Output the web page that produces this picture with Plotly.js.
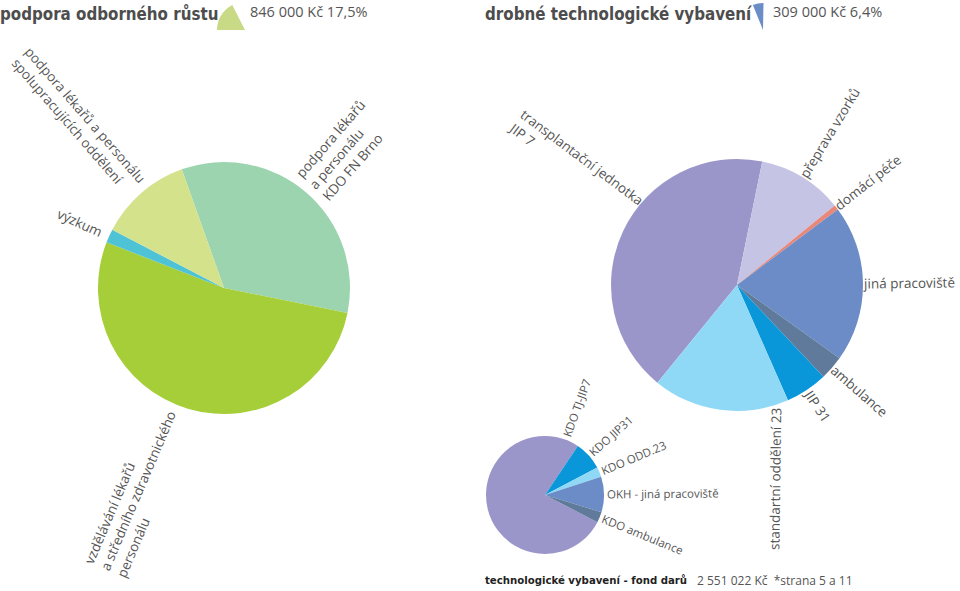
<!DOCTYPE html>
<html><head><meta charset="utf-8">
<script src="https://cdn.plot.ly/plotly-3.0.1.min.js"></script>
<style>html,body{margin:0;padding:0;background:#fff}#chart{width:960px;height:591px}</style>
</head><body><div id="chart"></div>
<script>
// ---------- DATA ----------
const growthTitle = 'podpora odborného růstu';
const growthSummary = '846 000 Kč 17,5%';
const growthShare = 17.5;
const growthLabels = ['podpora lékařů<br>a personálu<br>KDO FN Brno',
  'vzdělávání lékařů<br>a středního zdravotnického<br>personálu',
  'výzkum',
  'podpora lékařů a personálu<br>spolupracujících oddělení'];
const growthValues = [33.6, 52.7, 1.75, 11.9];

const equipTitle = 'drobné technologické vybavení';
const equipSummary = '309 000 Kč 6,4%';
const equipShare = 6.4;
const equipLabels = ['transplantační jednotka<br>JIP 7', 'přeprava vzorků', 'domácí péče',
  'jiná pracoviště', 'ambulance', 'JIP 31', 'standartní oddělení 23'];
const equipValues = [42.3, 10.9, 0.64, 20.1, 3.1, 5.4, 17.5];

const fundTitle = 'technologické vybavení - fond darů';
const fundSummary = '2 551 022 Kč\u00a0 *strana 5 a 11';
const fundLabels = ['KDO TJ-JIP7', 'KDO JIP31', 'KDO ODD.23', 'OKH - jiná pracoviště', 'KDO ambulance'];
const fundValues = [76.75, 7.9, 2.7, 9.7, 2.9];

// ---------- STYLE / GEOMETRY ----------
const W = 960, H = 591;
const LABEL_FONT = 'Open Sans', LABEL_COLOR = '#555555';
const HEAD_FONT = 'DejaVu Sans Condensed';
const growthColors = ['#9bd4ae', '#a6ce39', '#4ec3d5', '#d3e28b'];
const equipColors = ['#9b96ca', '#c6c4e4', '#e8877a', '#6b8cc7', '#5f7a9a', '#0a97d9', '#8fd8f6'];
const fundColors = ['#9b96ca', '#0a97d9', '#8fd8f6', '#6b8cc7', '#5f7a9a'];

const geoGrowth = {cx: 224, cy: 288, r: 126, rot: 340.4, gap: 8, size: 13.5,
  frac: [0.5, 0.535, 0.5, 0.5], taAdj: {}};
const geoEquip = {cx: 737, cy: 285, r: 126, rot: 219.2, gap: 1, size: 13.5,
  frac: [0.575, 0.5, 0.5, 0.5, 0.5, 0.5, 0.2], taAdj: {6: -168}};
const geoFund = {cx: 545, cy: 495, r: 59, rot: 117.4, gap: 3, size: 11.5,
  frac: [0.95, 0.5, 0.5, 0.5, 0.5], taAdj: {}};
const geoIconG = {cx: 245, cy: 30, r: 28, rot: 270};
const geoIconE = {cx: 763, cy: 30, r: 27, rot: 338};

function dom(g) {
  return {x: [(g.cx - g.r) / W, (g.cx + g.r) / W], y: [1 - (g.cy + g.r) / H, 1 - (g.cy - g.r) / H]};
}
function pieTrace(values, colors, g, labels) {
  return {type: 'pie', values: values, labels: labels,
    marker: {colors: colors, line: {width: 0}}, sort: false, direction: 'clockwise',
    rotation: g.rot, domain: dom(g), textinfo: 'none', hoverinfo: 'skip', showlegend: false};
}
const ctx = document.createElement('canvas').getContext('2d');
function textWidth(t, size) {
  ctx.font = size + 'px "' + LABEL_FONT + '"';
  return Math.max(...t.split('<br>').map(s => ctx.measureText(s).width));
}
function labelAnns(labels, values, g) {
  const total = values.reduce((a, b) => a + b, 0);
  let acc = 0;
  return labels.map((lab, i) => {
    const ang = g.rot + (acc + values[i] * g.frac[i]) / total * 360;
    acc += values[i];
    const a = ((ang % 360) + 360) % 360;
    const rad = a * Math.PI / 180;
    const w = textWidth(lab, g.size);
    const d = g.r + g.gap + w / 2;
    const x = g.cx + d * Math.sin(rad), y = g.cy - d * Math.cos(rad);
    let ta = a < 180 ? a - 90 : a - 270;
    if (g.taAdj[i] != null) ta += g.taAdj[i];
    if (ta > 180) ta -= 360;
    if (ta < -180) ta += 360;
    return {text: lab, x: x / W, y: 1 - y / H, xref: 'paper', yref: 'paper', showarrow: false,
      xanchor: 'center', yanchor: 'middle', textangle: ta, align: 'left',
      font: {family: LABEL_FONT, size: g.size, color: LABEL_COLOR}};
  });
}
function textAnn(text, x, y, fam, size, bold, color) {
  return {text: text, x: x / W, y: 1 - y / H, xref: 'paper', yref: 'paper', showarrow: false,
    xanchor: 'left', yanchor: 'middle',
    font: {family: fam, size: size, color: color, weight: bold ? 'bold' : 'normal'}};
}

const traces = [
  pieTrace(growthValues, growthColors, geoGrowth, growthLabels),
  pieTrace(equipValues, equipColors, geoEquip, equipLabels),
  pieTrace(fundValues, fundColors, geoFund, fundLabels),
  pieTrace([growthShare, 100 - growthShare], ['#c8da86', 'rgba(0,0,0,0)'], geoIconG, ['a', 'b']),
  pieTrace([equipShare, 100 - equipShare], ['#6b8cc7', 'rgba(0,0,0,0)'], geoIconE, ['a', 'b'])
];

const annotations = [].concat(
  labelAnns(growthLabels, growthValues, geoGrowth),
  labelAnns(equipLabels, equipValues, geoEquip),
  labelAnns(fundLabels, fundValues, geoFund),
  [textAnn(growthTitle, -2, 14, HEAD_FONT, 16.8, true, '#4d4d4d'),
   textAnn(growthSummary, 248, 12, 'Open Sans', 14.5, false, '#555555'),
   textAnn(equipTitle, 483, 14, HEAD_FONT, 16.8, true, '#4d4d4d'),
   textAnn(equipSummary, 771, 12, 'Open Sans', 14.5, false, '#555555'),
   textAnn(fundTitle, 483, 580, HEAD_FONT, 11.3, true, '#222222'),
   textAnn(fundSummary, 695, 580, 'Open Sans', 12, false, '#555555')]
);

Plotly.newPlot('chart', traces, {
  width: W, height: H, margin: {l: 0, r: 0, t: 0, b: 0},
  paper_bgcolor: '#ffffff', plot_bgcolor: '#ffffff', showlegend: false,
  annotations: annotations
}, {displayModeBar: false, staticPlot: true});
</script></body></html>
